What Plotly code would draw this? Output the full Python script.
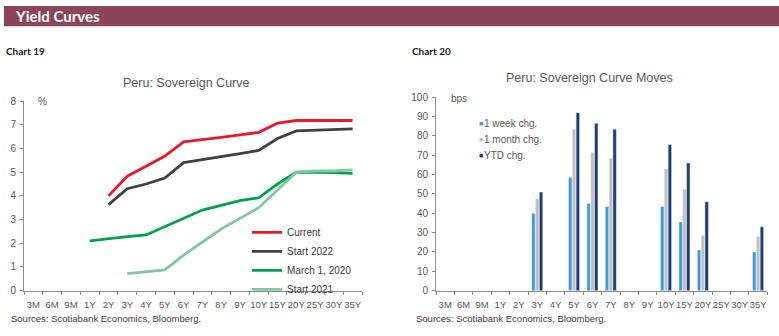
import plotly.graph_objects as go

W, H = 779, 336

tenors = ["3M", "6M", "9M", "1Y", "2Y", "3Y", "4Y", "5Y", "6Y", "7Y", "8Y", "9Y",
          "10Y", "15Y", "20Y", "25Y", "30Y", "35Y"]

# Chart 19: yields (%)
current = [None, None, None, None, 4.0, 4.83, 5.25, 5.68, 6.28, 6.36, 6.47, 6.57,
           6.68, 7.07, 7.18, 7.18, 7.18, 7.18]
start_2022 = [None, None, None, None, 3.63, 4.3, 4.5, 4.75, 5.4, 5.52, 5.65, 5.78,
              5.92, 6.42, 6.74, 6.77, 6.8, 6.83]
march_2020 = [None, None, None, 2.1, 2.2, 2.28, 2.35, 2.7, 3.05, 3.4, 3.6, 3.8,
              3.92, 4.5, 5.0, 5.0, 4.98, 4.95]
start_2021 = [None, None, None, None, None, 0.72, 0.8, 0.88, 1.5, 2.05, 2.6, 3.05,
              3.5, 4.25, 5.0, 5.05, 5.05, 5.1]

# Chart 20: moves (bps)
week_chg = [None, None, None, None, None, 40, None, 58.5, 45, 43.5, None, None,
            43.5, 35.5, 21, None, None, 20]
month_chg = [None, None, None, None, None, 47.5, None, 83.5, 71.5, 68.5, None, None,
             63, 52.5, 28.5, None, None, 28]
ytd_chg = [None, None, None, None, None, 51, None, 92, 86.5, 83.5, None, None,
           75.5, 66, 46, None, None, 33]

line_series = [("Current", current, "#E8192C"),
               ("Start 2022", start_2022, "#404040"),
               ("March 1, 2020", march_2020, "#00A04B"),
               ("Start 2021", start_2021, "#82C79E")]
bar_series = [("1 week chg.", week_chg, "#3B9BD8"),
              ("1 month chg.", month_chg, "#C0C0C0"),
              ("YTD chg.", ytd_chg, "#1F3C72")]

FONT = "Liberation Sans, Arial, sans-serif"
GREY = "#595959"

def px_x(p):
    return p / W

def px_y(p):
    return 1 - p / H

fig = go.Figure()

for i, (name, vals, col) in enumerate(line_series):
    fig.add_trace(go.Scatter(x=tenors, y=vals, mode="lines", name=name,
                             line=dict(color=col, width=2.8),
                             xaxis="x", yaxis="y", legend="legend",
                             legendgroup=name))

for name, vals, col in bar_series:
    fig.add_trace(go.Bar(x=tenors, y=vals, name=name, marker_color=col,
                         xaxis="x2", yaxis="y2", showlegend=False))

axis_common = dict(showgrid=False, zeroline=False, showline=True,
                   linecolor="#8C8C8C", linewidth=1, ticks="outside",
                   tickcolor="#8C8C8C", ticklen=3)

xfont = dict(family=FONT, size=9.5, color=GREY)
yfont = dict(family=FONT, size=10, color=GREY)

fig.update_layout(
    width=W, height=H,
    margin=dict(l=0, r=0, t=0, b=0),
    paper_bgcolor="white", plot_bgcolor="white",
    showlegend=True,
    barmode="group", bargap=0.38, bargroupgap=0.1,
    xaxis=dict(domain=[px_x(24), px_x(362)], anchor="y", type="category",
               categoryorder="array", categoryarray=tenors, tickangle=0,
               range=[-0.5, 17.5], tickson="boundaries", tickfont=xfont,
               ticklabelstandoff=5, **axis_common),
    yaxis=dict(domain=[px_y(294.3), px_y(98.3)], anchor="x", range=[0, 8],
               dtick=1, tickfont=yfont, ticklabelstandoff=2, **axis_common),
    xaxis2=dict(domain=[px_x(436), px_x(767.3)], anchor="y2", type="category",
                categoryorder="array", categoryarray=tenors, tickangle=0,
                range=[-0.5, 17.5], tickson="boundaries", tickfont=xfont,
                ticklabelstandoff=5, **axis_common),
    yaxis2=dict(domain=[px_y(294.3), px_y(94.3)], anchor="x2", range=[0, 100],
                dtick=10, tickfont=yfont, ticklabelstandoff=2, **axis_common),
    legend=dict(x=px_x(247), y=px_y(219), xanchor="left", yanchor="top",
                bgcolor="rgba(0,0,0,0)", traceorder="grouped", tracegroupgap=0,
                font=dict(family=FONT, size=10, color="#404040"),
                itemwidth=30),
)

# header band
fig.add_shape(type="rect", xref="paper", yref="paper",
              x0=px_x(4), x1=1, y0=px_y(21), y1=1,
              fillcolor="#8C4558", line_width=0, layer="below")

ann = []
def add_text(text, x, y, size, color, xanchor="left", bold=False, family=FONT):
    t = f"<b>{text}</b>" if bold else text
    ann.append(dict(text=t, x=px_x(x), y=px_y(y), xref="paper", yref="paper",
                    xanchor=xanchor, yanchor="middle", showarrow=False,
                    font=dict(family=family, size=size, color=color)))

add_text("Yield Curves", 13, 10.5, 15, "white", bold=True, family="Lato, sans-serif")
add_text("Chart 19", 4, 47, 10, "#1a1a1a", bold=True, family="Lato, sans-serif")
add_text("Chart 20", 410, 47, 10, "#1a1a1a", bold=True, family="Lato, sans-serif")
add_text("Peru: Sovereign Curve", 186, 79.5, 12.5, GREY, xanchor="center")
add_text("Peru: Sovereign Curve Moves", 589, 74.5, 12.5, GREY, xanchor="center")
add_text("%", 36, 99, 10, GREY)
add_text("bps", 449, 96, 10, GREY)
add_text("Sources: Scotiabank Economics, Bloomberg.", 9, 323, 9.5, "#404040")
add_text("Sources: Scotiabank Economics, Bloomberg.", 414, 323, 9.5, "#404040")

# legend for bar chart (compact key)
for i, (name, vals, col) in enumerate(bar_series):
    yy = 121.7 + i * 16.3
    add_text("■", 476.5, yy, 7, col)
    add_text(name, 482, yy, 10, GREY)

fig.update_layout(annotations=ann)

fig.write_html("out.html")
